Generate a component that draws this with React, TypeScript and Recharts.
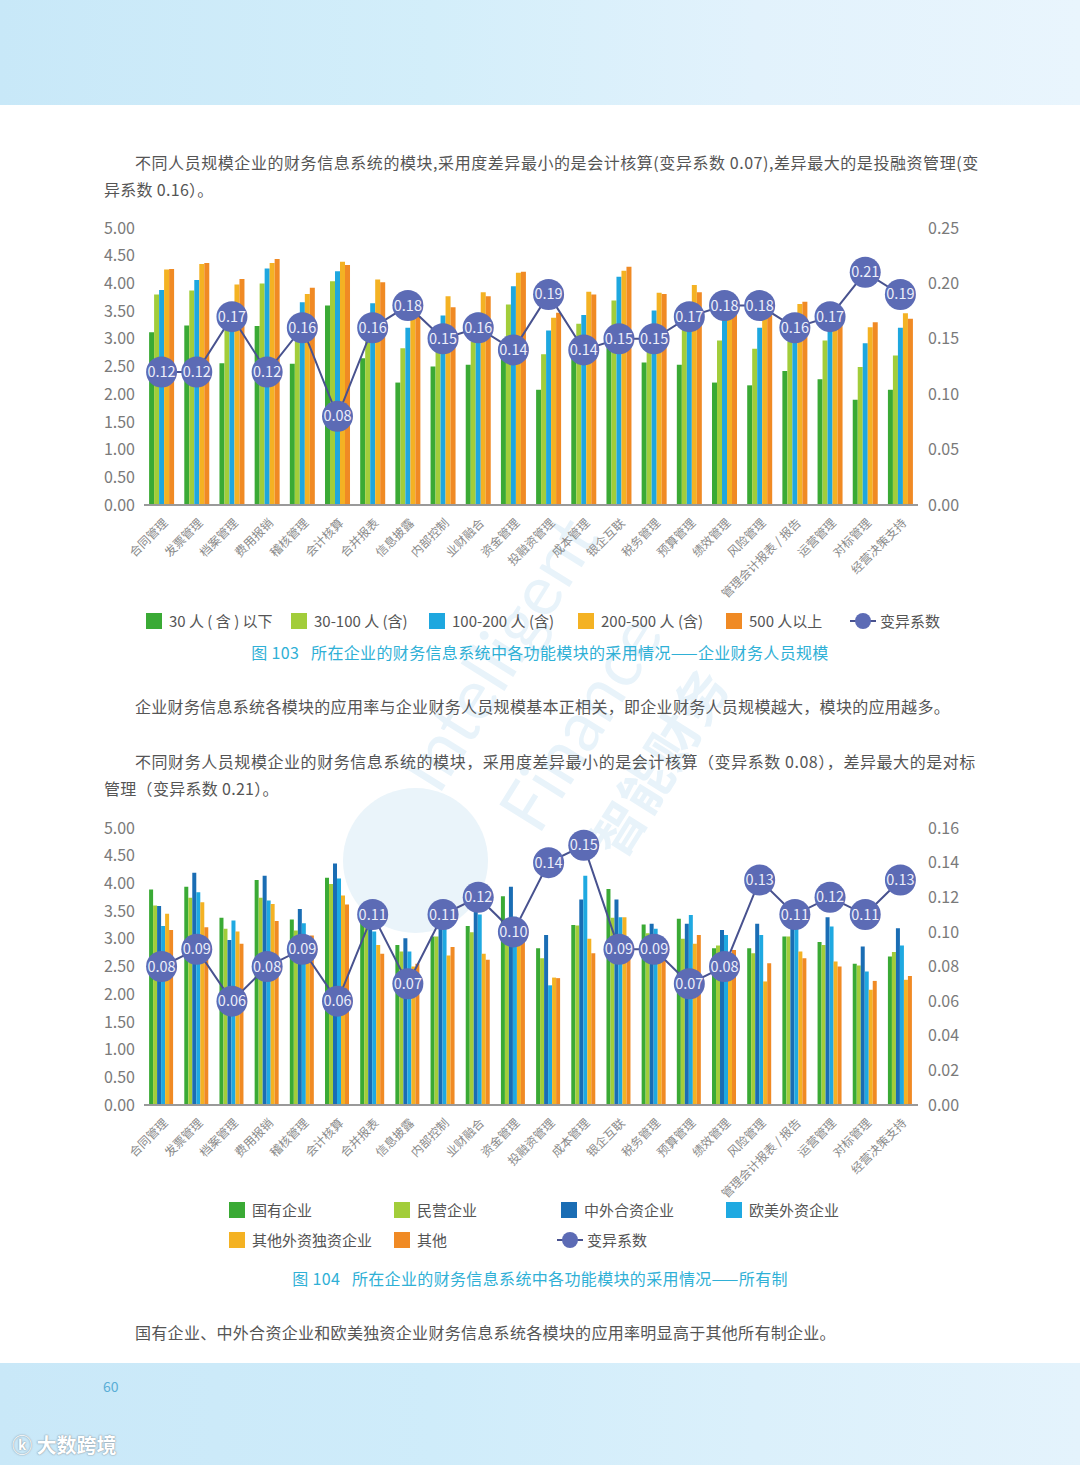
import {Bar, ComposedChart, Line, LabelList, XAxis, YAxis} from "recharts"

const modules = ["合同管理", "发票管理", "档案管理", "费用报销", "稽核管理", "会计核算", "合并报表", "信息披露", "内部控制", "业财融合", "资金管理", "投融资管理", "成本管理", "银企互联", "税务管理", "预算管理", "绩效管理", "风险管理", "管理会计报表 / 报告", "运营管理", "对标管理", "经营决策支持"]

// 图103 企业财务人员规模
const size30 = [3.12, 3.24, 2.56, 3.23, 2.55, 3.60, 2.65, 2.21, 2.50, 2.53, 2.85, 2.08, 2.85, 3.00, 2.57, 2.53, 2.21, 2.16, 2.42, 2.27, 1.90, 2.08]
const size100 = [3.80, 3.87, 3.30, 4.00, 3.00, 4.04, 3.00, 2.83, 2.85, 2.95, 3.62, 2.72, 3.27, 3.69, 3.05, 3.25, 2.97, 2.82, 2.95, 2.97, 2.49, 2.70]
const size200 = [3.88, 4.06, 3.55, 4.27, 3.66, 4.22, 3.64, 3.20, 3.42, 3.47, 3.95, 3.15, 3.43, 4.12, 3.51, 3.40, 3.35, 3.20, 3.20, 3.30, 2.92, 3.20]
const size500 = [4.25, 4.35, 3.98, 4.37, 3.81, 4.39, 4.07, 3.55, 3.77, 3.84, 4.19, 3.38, 3.85, 4.23, 3.83, 3.97, 3.50, 3.45, 3.63, 3.40, 3.21, 3.46]
const sizeAbove = [4.26, 4.37, 4.08, 4.44, 3.92, 4.33, 4.02, 3.41, 3.57, 3.77, 4.21, 3.47, 3.80, 4.30, 3.81, 3.84, 3.47, 3.47, 3.67, 3.35, 3.30, 3.36]
const cvSize = [0.12, 0.12, 0.17, 0.12, 0.16, 0.08, 0.16, 0.18, 0.15, 0.16, 0.14, 0.19, 0.14, 0.15, 0.15, 0.17, 0.18, 0.18, 0.16, 0.17, 0.21, 0.19]

// 图104 所有制
const stateOwned = [3.89, 3.94, 3.38, 4.06, 3.35, 4.10, 3.35, 2.89, 3.04, 3.23, 3.77, 2.83, 3.25, 3.90, 3.26, 3.36, 2.83, 2.83, 3.04, 2.94, 2.55, 2.68]
const privateOwned = [3.60, 3.74, 3.18, 3.74, 3.15, 3.99, 3.20, 2.77, 3.04, 3.12, 3.30, 2.65, 3.24, 3.38, 3.10, 3.00, 2.88, 2.74, 3.04, 2.89, 2.52, 2.76]
const jointVenture = [3.59, 4.19, 2.98, 4.14, 3.54, 4.36, 3.45, 3.01, 3.60, 3.55, 3.94, 3.07, 3.71, 3.71, 3.27, 3.27, 3.16, 3.27, 3.40, 3.39, 2.86, 3.19]
const westernForeign = [3.23, 3.84, 3.33, 3.69, 3.28, 4.09, 3.13, 2.77, 3.30, 3.44, 3.40, 2.16, 4.14, 3.39, 3.18, 3.43, 3.07, 3.07, 3.20, 3.22, 2.41, 2.88]
const otherForeign = [3.45, 3.66, 3.13, 3.63, 3.05, 3.78, 2.89, 2.50, 2.70, 2.73, 3.10, 2.30, 3.00, 3.39, 2.90, 2.91, 2.75, 2.23, 2.77, 2.59, 2.08, 2.26]
const otherOwned = [3.16, 3.21, 2.91, 3.32, 3.06, 3.62, 2.73, 2.55, 2.85, 2.62, 3.00, 2.29, 2.74, 2.95, 2.95, 3.07, 2.80, 2.56, 2.65, 2.50, 2.24, 2.33]
const cvOwner = [0.08, 0.09, 0.06, 0.08, 0.09, 0.06, 0.11, 0.07, 0.11, 0.12, 0.10, 0.14, 0.15, 0.09, 0.09, 0.07, 0.08, 0.13, 0.11, 0.12, 0.11, 0.13]

const leftTicks = [0, 0.5, 1, 1.5, 2, 2.5, 3, 3.5, 4, 4.5, 5]
const rightTicksSize = [0, 0.05, 0.1, 0.15, 0.2, 0.25]
const rightTicksOwner = [0, 0.02, 0.04, 0.06, 0.08, 0.1, 0.12, 0.14, 0.16]

const sizeSeries = [
    {key: "s30", name: "30 人 ( 含 ) 以下", color: "#3aaa35", values: size30},
    {key: "s100", name: "30-100 人 (含)", color: "#a2cd3a", values: size100},
    {key: "s200", name: "100-200 人 (含)", color: "#1ea7df", values: size200},
    {key: "s500", name: "200-500 人 (含)", color: "#f4b223", values: size500},
    {key: "sAbove", name: "500 人以上", color: "#f08a24", values: sizeAbove},
]

const ownerSeries = [
    {key: "o1", name: "国有企业", color: "#3aaa35", values: stateOwned},
    {key: "o2", name: "民营企业", color: "#a2cd3a", values: privateOwned},
    {key: "o3", name: "中外合资企业", color: "#1a6db4", values: jointVenture},
    {key: "o4", name: "欧美外资企业", color: "#1fa9e1", values: westernForeign},
    {key: "o5", name: "其他外资独资企业", color: "#f4b223", values: otherForeign},
    {key: "o6", name: "其他", color: "#f08a24", values: otherOwned},
]

const FONT = "'Noto Sans CJK SC', 'Noto Sans', sans-serif"
const MARKER = "#5c6bb5"

function buildRows(series: any[], cv: number[]) {
    return modules.map((m, i) => {
        const row: any = {name: m, cv: cv[i]}
        series.forEach(s => { row[s.key] = s.values[i] })
        return row
    })
}

const AngledTick = (props: any) => {
    const {x, y, payload} = props
    const tx = x + 4
    const ty = y + 8
    return (
        <text x={tx} y={ty} transform={`rotate(-45, ${tx}, ${ty})`} textAnchor="end" fontSize={12}
              fill="#8a8a8a" fontFamily={FONT} dy={4}>
            {payload.value}
        </text>
    )
}

const CvLabel = (props: any) => {
    const {x, y, value} = props
    return (
        <text x={x} y={y} dy={5} textAnchor="middle" fontSize={14.5} fill="#eceefa" fontFamily={FONT}>
            {Number(value).toFixed(2)}
        </text>
    )
}

function FunctionChart({series, cv, rightTicks}: { series: any[], cv: number[], rightTicks: number[] }) {
    const rows = buildRows(series, cv)
    const rightMax = rightTicks[rightTicks.length - 1]
    return (
        <ComposedChart width={1080} height={400} data={rows} barCategoryGap="14.5%" barGap={0}
                       margin={{top: 18, right: 102, bottom: 0, left: 84}}>
            <XAxis dataKey="name" interval={0} tick={<AngledTick/>} tickLine={false} height={105}
                   axisLine={{stroke: "#9a9a9a", strokeWidth: 2}}/>
            <YAxis yAxisId="left" domain={[0, 5]} ticks={leftTicks} width={60} tickSize={0} tickMargin={9}
                   axisLine={false} tickLine={false} tickFormatter={(v) => v.toFixed(2)}
                   tick={{fontSize: 16, fill: "#7a7a7a", fontFamily: FONT}}/>
            <YAxis yAxisId="right" orientation="right" domain={[0, rightMax]} ticks={rightTicks} width={60}
                   tickSize={0} tickMargin={10} axisLine={false} tickLine={false}
                   tickFormatter={(v) => v.toFixed(2)}
                   tick={{fontSize: 16, fill: "#7a7a7a", fontFamily: FONT, textAnchor: "start"}}/>
            {series.map(s => (
                <Bar key={s.key} yAxisId="left" dataKey={s.key} name={s.name} fill={s.color}
                     isAnimationActive={false}/>
            ))}
            <Line yAxisId="right" dataKey="cv" name="变异系数" stroke="#48528f" strokeWidth={2}
                  dot={{r: 15.5, fill: MARKER, stroke: "none"}} activeDot={false} isAnimationActive={false}>
                <LabelList dataKey="cv" content={<CvLabel/>}/>
            </Line>
        </ComposedChart>
    )
}

function LegendItem({name, color, line, x, y}: { name: string, color?: string, line?: boolean, x: number, y: number }) {
    return (
        <div style={{position: "absolute", left: x, top: y, display: "flex", alignItems: "center", whiteSpace: "nowrap"}}>
            {line ? (
                <svg width={26} height={18} style={{marginRight: 4}}>
                    <line x1={0} y1={9} x2={26} y2={9} stroke="#48528f" strokeWidth={2}/>
                    <circle cx={13} cy={9} r={8} fill={MARKER}/>
                </svg>
            ) : (
                <span style={{width: 16, height: 16, background: color, marginRight: 7, display: "inline-block"}}/>
            )}
            <span style={{fontSize: 15, color: "#555"}}>{name}</span>
        </div>
    )
}

const textStyle: any = {position: "absolute", fontSize: 16, color: "#555", whiteSpace: "nowrap", lineHeight: "20px",
    letterSpacing: 0.3}
const justified: any = {...textStyle, letterSpacing: 0.56}
const captionStyle: any = {position: "absolute", left: 0, width: 1080, textAlign: "center", fontSize: 16,
    color: "#2fb0d6", whiteSpace: "pre", letterSpacing: 0.35}

export default function App() {
    const legend1X = [146, 291, 429, 578, 726]
    const legend2Pos = [[229, 1199], [394, 1199], [561, 1199], [726, 1199], [229, 1229], [394, 1229]]
    return (
        <div style={{position: "absolute", left: 0, top: 0, width: 1080, height: 1465, background: "#fff",
            overflow: "hidden", fontFamily: FONT}}>
            <div style={{position: "absolute", left: 0, top: 0, width: 1080, height: 105,
                background: "linear-gradient(90deg, #c8e8f8 0%, #d3eefa 40%, #e2f2fc 70%, #e9f5fd 100%)"}}/>
            <div style={{position: "absolute", left: 0, top: 1363, width: 1080, height: 102,
                background: "linear-gradient(90deg, #c9e8f8 0%, #cfecfa 40%, #dbf0fb 70%, #e4f3fc 100%)"}}/>

            {/* watermark */}
            <div style={{position: "absolute", left: 343, top: 788, width: 145, height: 145, borderRadius: "50%",
                background: "#eaf4fa"}}/>
            <div style={{position: "absolute", left: 380, top: 760, fontSize: 70, color: "#e8f3fa",
                transform: "rotate(-58deg)", transformOrigin: "left top", whiteSpace: "nowrap", fontFamily: "Lato, sans-serif"}}>
                Intelligent
            </div>
            <div style={{position: "absolute", left: 480, top: 800, fontSize: 70, color: "#e8f3fa",
                transform: "rotate(-58deg)", transformOrigin: "left top", whiteSpace: "nowrap", fontFamily: "Lato, sans-serif"}}>
                Finance
            </div>
            <div style={{position: "absolute", left: 570, top: 830, fontSize: 52, color: "#e8f3fa",
                transform: "rotate(-58deg)", transformOrigin: "left top", whiteSpace: "nowrap", fontWeight: 700}}>
                智能财务
            </div>

            <div style={{...justified, left: 135, top: 152}}>
                不同人员规模企业的财务信息系统的模块,采用度差异最小的是会计核算(变异系数 0.07),差异最大的是投融资管理(变
            </div>
            <div style={{...textStyle, left: 104, top: 179}}>异系数 0.16）。</div>

            <div style={{position: "absolute", left: 0, top: 210}}>
                <FunctionChart series={sizeSeries} cv={cvSize} rightTicks={rightTicksSize}/>
            </div>
            {sizeSeries.map((s, i) => (
                <LegendItem key={s.key} name={s.name} color={s.color} x={legend1X[i]} y={610}/>
            ))}
            <LegendItem name="变异系数" line x={850} y={610}/>
            <div style={{...captionStyle, top: 640}}>
                {"图 103   所在企业的财务信息系统中各功能模块的采用情况——企业财务人员规模"}
            </div>

            <div style={{...textStyle, left: 135, top: 696}}>
                企业财务信息系统各模块的应用率与企业财务人员规模基本正相关，即企业财务人员规模越大，模块的应用越多。
            </div>
            <div style={{...justified, left: 135, top: 751}}>
                不同财务人员规模企业的财务信息系统的模块，采用度差异最小的是会计核算（变异系数 0.08），差异最大的是对标
            </div>
            <div style={{...textStyle, left: 104, top: 778}}>管理（变异系数 0.21）。</div>

            <div style={{position: "absolute", left: 0, top: 810}}>
                <FunctionChart series={ownerSeries} cv={cvOwner} rightTicks={rightTicksOwner}/>
            </div>
            {ownerSeries.map((s, i) => (
                <LegendItem key={s.key} name={s.name} color={s.color} x={legend2Pos[i][0]} y={legend2Pos[i][1]}/>
            ))}
            <LegendItem name="变异系数" line x={557} y={1229}/>
            <div style={{...captionStyle, top: 1266}}>
                {"图 104   所在企业的财务信息系统中各功能模块的采用情况——所有制"}
            </div>

            <div style={{...textStyle, left: 135, top: 1322}}>
                国有企业、中外合资企业和欧美独资企业财务信息系统各模块的应用率明显高于其他所有制企业。
            </div>

            <div style={{position: "absolute", left: 103, top: 1376, fontSize: 14, color: "#5aaed6"}}>60</div>
            <div style={{position: "absolute", left: 12, top: 1430, fontSize: 20, color: "#fff",
                textShadow: "0 0 2px #8a9aa5, 0 0 1px #8a9aa5", fontWeight: 700}}>
                ⓚ 大数跨境
            </div>
        </div>
    )
}
